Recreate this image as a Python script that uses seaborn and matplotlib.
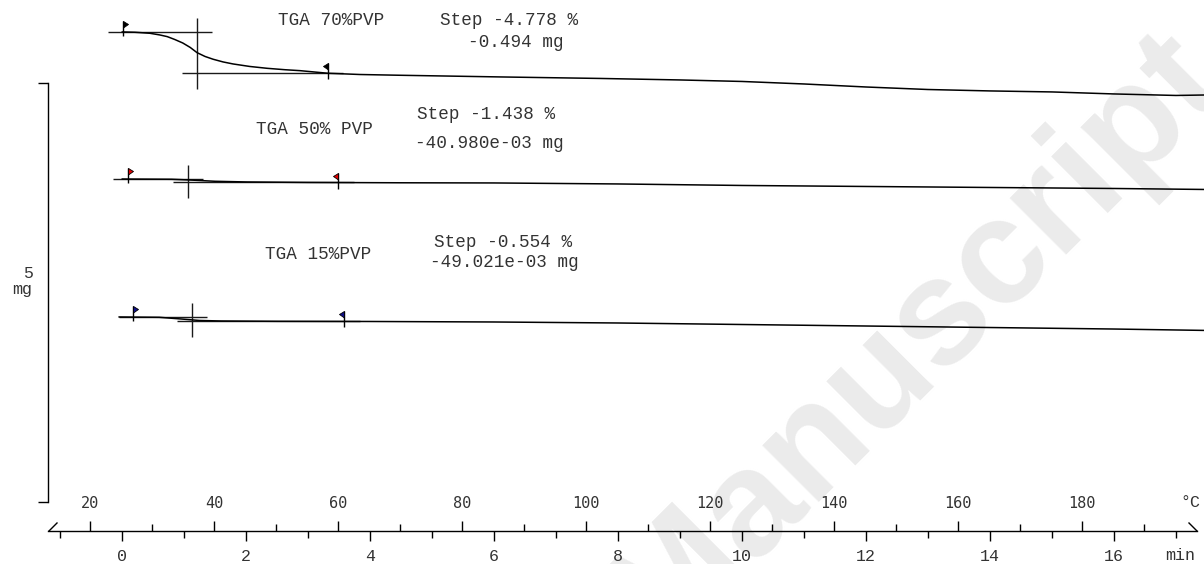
import numpy as np
import pandas as pd
import matplotlib
matplotlib.use("Agg")
import matplotlib.pyplot as plt
from matplotlib.path import Path
from matplotlib.ticker import FixedLocator
import seaborn as sns

# ---- TGA signals: time (min) vs. mass (mg, curves stacked for display) ----
t_70 = [0.00, 0.21, 0.45, 0.61, 0.73, 0.85, 0.98, 1.10, 1.21, 1.34, 1.47, 1.63,
        1.79, 2.06, 2.34, 2.63, 2.87, 3.32, 3.84, 4.48, 6.10, 7.71, 9.00, 10.0,
        11.0, 12.0, 13.0, 14.0, 15.0, 16.0, 17.0, 17.5]
m_70 = [5.609, 5.605, 5.593, 5.573, 5.553, 5.519, 5.477, 5.424, 5.362, 5.316, 5.283, 5.251,
        5.227, 5.197, 5.175, 5.158, 5.147, 5.116, 5.101, 5.092, 5.072, 5.054, 5.036, 5.018,
        4.988, 4.952, 4.922, 4.905, 4.893, 4.869, 4.851, 4.857]

t_50 = [0.00, 0.80, 1.10, 1.50, 2.00, 3.00, 4.50, 6.00, 8.00, 10.0, 12.0, 14.0, 16.0, 17.5]
m_50 = [3.854, 3.851, 3.842, 3.827, 3.819, 3.813, 3.809, 3.807, 3.795, 3.777, 3.765, 3.753, 3.741, 3.729]

t_15 = [-0.05, 0.60, 0.95, 1.25, 1.60, 2.50, 4.00, 6.00, 8.00, 10.0, 12.0, 14.0, 16.0, 17.5]
m_15 = [2.208, 2.204, 2.184, 2.166, 2.160, 2.156, 2.154, 2.148, 2.136, 2.118, 2.100, 2.082, 2.064, 2.047]

samples = ["TGA 70%PVP", "TGA 50% PVP", "TGA 15%PVP"]
times = [t_70, t_50, t_15]
masses = [m_70, m_50, m_15]

# step evaluation results
step_pct_text = ["Step -4.778 %", "Step -1.438 %", "Step -0.554 %"]
step_mg_text = ["-0.494 mg", "-40.980e-03 mg", "-49.021e-03 mg"]
step_mg = [-0.494, -0.04098, -0.049021]
t_flag_start = [0.02, 0.10, 0.18]
t_flag_end = [3.32, 3.48, 3.58]
t_inflect = [1.21, 1.065, 1.13]
upper_tangent = [(-0.23, 1.45), (-0.15, 1.31), (-0.05, 1.37)]
lower_tangent = [(0.97, 3.57), (0.82, 3.74), (0.89, 3.84)]
flag_colors = ["black", "#e00000", "#10108a"]

# annotation anchors (time, mass), left-aligned
name_pos = [(2.52, 5.74), (2.16, 4.44), (2.31, 2.95)]
pct_pos = [(5.13, 5.75), (4.76, 4.62), (5.03, 3.10)]
mg_pos = [(5.58, 5.48), (4.73, 4.28), (4.97, 2.86)]

# heating programme and axis ticks
T0 = 25.16          # °C at t = 0
rate = 10.0         # K/min
temp_major = list(range(20, 181, 20))
temp_minor = list(range(30, 191, 20))
time_major = list(range(0, 17, 2))
time_minor = list(range(-1, 18, 2))
scale_bar_mg = (0, 5)

sns.set_theme(style="white")
plt.rcParams["font.family"] = ["Liberation Mono", "DejaVu Sans Mono"]
plt.rcParams["axes.linewidth"] = 1.0

fig = plt.figure(figsize=(12.04, 5.64), dpi=100)
ax = fig.add_axes([0, 33 / 564, 1, 531 / 564])
ax.set_facecolor("none")
ax.set_xlim(-1.968, 17.452)
ax.set_ylim(-0.346, 5.990)

# watermark
ax.text(0.762, 0.400, "Manuscript", transform=fig.transFigure, rotation=45,
        rotation_mode="anchor", ha="center", va="center", fontsize=108,
        fontweight="bold", family="Liberation Sans", color="#ebebeb", zorder=0)

df = pd.concat([pd.DataFrame({"time": t, "mass": m, "sample": s})
                for t, m, s in zip(times, masses, samples)], ignore_index=True)
sns.lineplot(data=df, x="time", y="mass", hue="sample", palette=["black"] * 3,
             estimator=None, sort=False, legend=False, linewidth=1.1, ax=ax, zorder=3)
ax.set_xlabel("")
ax.set_ylabel("")

# flag markers (pole + pennant), in marker units
pole_start = Path([(0, 11), (0, -4)], [Path.MOVETO, Path.LINETO])
flag_start = Path([(0, 11), (5, 8), (0, 4.5), (0, 11)],
                  [Path.MOVETO, Path.LINETO, Path.LINETO, Path.CLOSEPOLY])
pole_end = Path([(0, 10), (0, -6)], [Path.MOVETO, Path.LINETO])
flag_end = Path([(0, 10), (-5, 7), (0, 3.5), (0, 10)],
                [Path.MOVETO, Path.LINETO, Path.LINETO, Path.CLOSEPOLY])
px = 0.72  # points per pixel

tan_kw = dict(color="#1a1a1a", linewidth=1.0, zorder=2)
txt_kw = dict(fontsize=12.7, color="#333333", va="center", ha="left")
for i in range(3):
    t, m = times[i], masses[i]
    before = m[0]
    after = before + step_mg[i]
    ax.hlines(before, *upper_tangent[i], **tan_kw)
    ax.hlines(after, *lower_tangent[i], **tan_kw)
    ax.vlines(t_inflect[i], after - 0.19, before + 0.167, **tan_kw)

    ys = np.interp(t_flag_start[i], t, m)
    ye = np.interp(t_flag_end[i], t, m)
    ax.plot([t_flag_start[i]], [ys], marker=pole_start, markersize=22 * px,
            mec="black", mew=1.0, linestyle="none", zorder=4)
    ax.plot([t_flag_start[i]], [ys], marker=flag_start, markersize=22 * px,
            mfc=flag_colors[i], mec="black", mew=0.6, linestyle="none", zorder=5)
    ax.plot([t_flag_end[i]], [ye], marker=pole_end, markersize=20 * px,
            mec="black", mew=1.0, linestyle="none", zorder=4)
    ax.plot([t_flag_end[i]], [ye], marker=flag_end, markersize=20 * px,
            mfc=flag_colors[i], mec="black", mew=0.6, linestyle="none", zorder=5)

    ax.text(*name_pos[i], samples[i], **txt_kw)
    ax.text(*pct_pos[i], step_pct_text[i], **txt_kw)
    ax.text(*mg_pos[i], step_mg_text[i], **txt_kw)

# spines: mass scale bar on the left, time / temperature axis at the bottom
for side in ("top", "right"):
    ax.spines[side].set_visible(False)
x_left, x_right = -1.194, 17.339
ax.spines["left"].set_position(("data", x_left))
ax.spines["left"].set_bounds(*scale_bar_mg)
ax.spines["bottom"].set_bounds(x_left, x_right)
for side in ("left", "bottom"):
    ax.spines[side].set_color("black")

ax.set_yticks(list(scale_bar_mg))
ax.tick_params(axis="y", direction="out", length=7.2, width=1.0, color="black",
               labelleft=False, left=True)
ax.text(-1.516, 2.73, "5", fontsize=12, color="#333333", ha="center", va="center")
ax.text(-1.605, 2.53, "mg", fontsize=12, color="#333333", ha="center", va="center")

ax.set_xticks(time_major, labels=[str(v) for v in time_major])
ax.xaxis.set_minor_locator(FixedLocator(time_minor))
ax.tick_params(axis="x", which="major", direction="out", length=7.2, width=1.0,
               color="black", pad=6, labelsize=12, labelcolor="#333333", bottom=True)
ax.tick_params(axis="x", which="minor", direction="out", length=5, width=1.0,
               color="black", bottom=True)
ax.text(17.06, -0.644, "min", fontsize=12, color="#333333", ha="center", va="center")

# break marks at both ends of the abscissa
ax.plot([x_left], [-0.346], marker=Path([(0, 0), (1, 1)]), markersize=18 * px,
        mec="black", mew=1.0, linestyle="none", clip_on=False)
ax.plot([x_right], [-0.346], marker=Path([(0, 0), (-1, 1)]), markersize=18 * px,
        mec="black", mew=1.0, linestyle="none", clip_on=False)

secax = ax.secondary_xaxis(0, functions=(lambda t: T0 + rate * np.asarray(t),
                                         lambda T: (np.asarray(T) - T0) / rate))
secax.set_alignment("top")
for sp in secax.spines.values():
    sp.set_visible(False)
secax.set_ticks(temp_major, labels=[str(v) for v in temp_major])
secax.xaxis.set_minor_locator(FixedLocator(temp_minor))
secax.tick_params(axis="x", which="major", direction="out", length=7.2, width=1.0,
                  color="black", pad=7, labelsize=11, labelcolor="#333333")
secax.tick_params(axis="x", which="minor", direction="out", length=5, width=1.0,
                  color="black")
for lbl in secax.get_xticklabels():
    lbl.set_fontfamily("DejaVu Sans Mono")
ax.text(17.23, 0.0, "°C", fontsize=12, color="#333333", ha="center", va="center")

fig.savefig("out.png", dpi=100)
